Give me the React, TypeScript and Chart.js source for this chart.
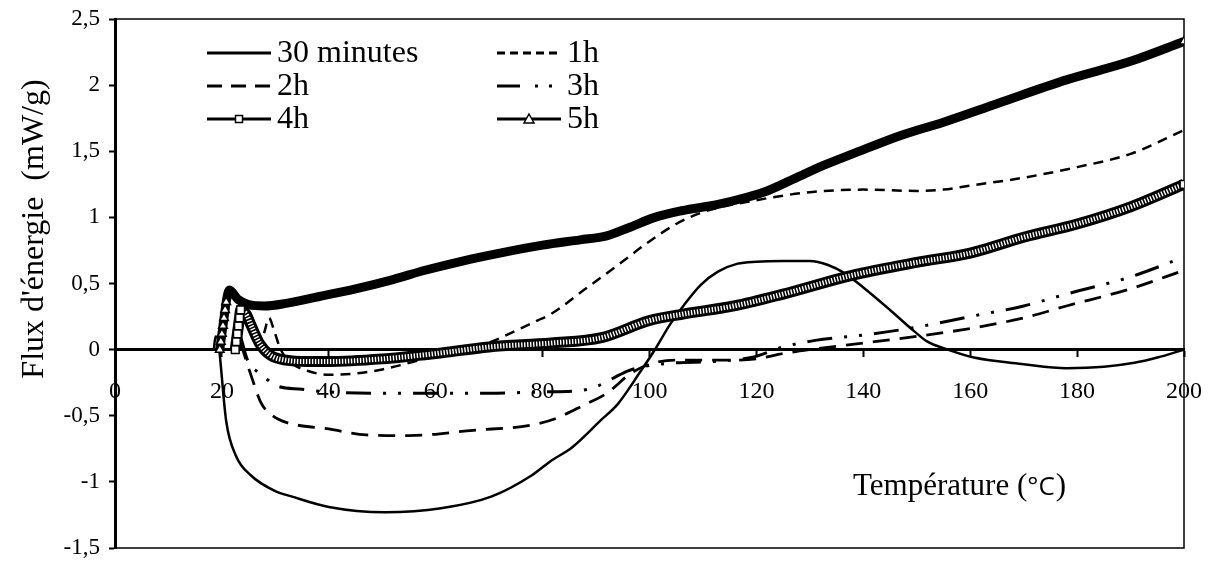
import React, { useEffect, useRef } from 'react';
import { Chart, registerables } from 'chart.js';

Chart.register(...registerables);

// ---------- data ----------
const SERIES_NAMES = ['30 minutes', '1h', '2h', '3h', '4h', '5h'];

const TEMP_30MIN = [18.5, 18.8, 19.2, 19.5, 20.8, 22.6, 25.4, 30, 33, 40, 50.5, 61, 70.5, 78, 81.6, 85.5, 91, 94.1, 98.4, 100.7, 104, 106.5, 109.6, 112.8, 116.5, 120, 125, 130, 133.4, 136.4, 140, 145, 149.5, 152, 155.8, 160.7, 170, 178, 185, 190.7, 195, 200];
const FLUX_30MIN = [0, 0.1, 0.09, 0.0, -0.54, -0.8, -0.95, -1.07, -1.11, -1.19, -1.23, -1.2, -1.11, -0.95, -0.84, -0.74, -0.53, -0.41, -0.16, -0.02, 0.2, 0.34, 0.49, 0.59, 0.65, 0.665, 0.67, 0.67, 0.64, 0.58, 0.47, 0.3, 0.14, 0.06, 0.0, -0.06, -0.11, -0.14, -0.13, -0.1, -0.06, 0.0];

const TEMP_1H = [27, 28, 28.8, 29.8, 31, 33, 36, 40, 45, 50, 57, 60, 66, 71, 79, 81.6, 87.7, 94.1, 99.7, 105, 110, 120, 130, 140, 150, 155, 160, 170, 180, 190, 200];
const FLUX_1H = [0, 0.14, 0.24, 0.14, 0.0, -0.1, -0.16, -0.19, -0.18, -0.15, -0.08, -0.05, 0.0, 0.07, 0.22, 0.27, 0.45, 0.64, 0.81, 0.95, 1.04, 1.13, 1.19, 1.21, 1.2, 1.21, 1.24, 1.3, 1.38, 1.48, 1.66];

const TEMP_2H = [23.5, 25.5, 27.3, 29.5, 32, 40, 47, 55, 67, 78, 82.5, 87.7, 92, 96.5, 100, 105, 115, 120, 125, 130, 140, 150, 160, 170, 178, 190, 200];
const FLUX_2H = [0.05, -0.2, -0.4, -0.5, -0.55, -0.6, -0.645, -0.65, -0.61, -0.57, -0.52, -0.42, -0.33, -0.18, -0.11, -0.08, -0.08, -0.07, -0.03, 0.0, 0.05, 0.1, 0.16, 0.24, 0.33, 0.46, 0.6];

const TEMP_3H = [23.5, 24.8, 26.7, 28.6, 30, 35, 40, 50, 60, 70, 80, 87, 90, 93, 96, 100, 105, 112, 119, 125, 131, 140, 150, 160, 170, 178, 190, 200];
const FLUX_3H = [0.1, -0.08, -0.17, -0.23, -0.27, -0.3, -0.32, -0.33, -0.33, -0.33, -0.32, -0.31, -0.28, -0.22, -0.16, -0.12, -0.1, -0.09, -0.06, 0.02, 0.07, 0.11, 0.17, 0.25, 0.33, 0.42, 0.55, 0.7];

const TEMP_4H = [22.5, 22.7, 22.9, 23.1, 23.3, 23.5, 24.5, 25.5, 27, 29, 32, 36, 40, 50, 60, 70, 81.6, 91, 100, 106.5, 115.8, 125, 137.7, 150, 160, 170, 180, 190, 200];
const FLUX_4H = [0, 0.06, 0.12, 0.18, 0.24, 0.3, 0.27, 0.18, 0.05, -0.04, -0.08, -0.09, -0.09, -0.07, -0.03, 0.02, 0.05, 0.09, 0.22, 0.27, 0.33, 0.42, 0.56, 0.66, 0.73, 0.85, 0.95, 1.08, 1.25];

const TEMP_5H = [19.6, 19.8, 20.0, 20.2, 20.4, 20.6, 20.8, 21.4, 23, 25, 28, 32, 38, 45, 52, 58, 65, 72, 80, 87, 92, 96, 101, 106, 113, 118, 122, 128, 133, 138, 147, 155, 165, 178, 190, 200];
const FLUX_5H = [0, 0.06, 0.12, 0.18, 0.24, 0.3, 0.36, 0.45, 0.38, 0.34, 0.33, 0.35, 0.4, 0.46, 0.53, 0.6, 0.67, 0.73, 0.79, 0.83, 0.86, 0.92, 1.0, 1.05, 1.1, 1.15, 1.2, 1.31, 1.4, 1.48, 1.62, 1.72, 1.86, 2.04, 2.18, 2.33];

const X_TICK_VALUES = [0, 20, 40, 60, 80, 100, 120, 140, 160, 180, 200];
const Y_TICK_VALUES = [-1.5, -1, -0.5, 0, 0.5, 1, 1.5, 2, 2.5];

const X_TITLE_MAIN = 'Température (';
const X_TITLE_UNIT = '°C';
const X_TITLE_END = ')';
const Y_TITLE = "Flux d'énergie  (mW/g)";

// ---------- styles ----------
const SERIF = '"Liberation Serif", "Times New Roman", serif';
const SANS = '"Open Sans", "DejaVu Sans", sans-serif';
const DASH_1H = [10, 7];
const DASH_2H = [17, 10];
const DASH_3H = [25, 12, 3, 12, 3, 12];

const pts = (xs: number[], ys: number[]) => xs.map((x, i) => ({ x, y: ys[i] }));

const riseMarker = (count: number, total: number, r: number) => (ctx: any) =>
  ctx.dataIndex < count || ctx.dataIndex === total - 1 ? r : 0;

function drawLegend(ctx: CanvasRenderingContext2D) {
  const rows = [53, 86, 119];
  const cols = [207, 497];
  const len = 64;
  const items = [
    { dash: [], marker: '' },
    { dash: [8, 5], marker: '' },
    { dash: [15, 9], marker: '' },
    { dash: [23, 15, 3, 11, 3, 12], marker: '' },
    { dash: [], marker: 'rect' },
    { dash: [], marker: 'triangle' },
  ];
  items.forEach((it, i) => {
    const x = cols[i % 2];
    const y = rows[Math.floor(i / 2)];
    ctx.save();
    ctx.strokeStyle = '#000';
    ctx.lineWidth = 3;
    ctx.setLineDash(it.dash);
    ctx.beginPath();
    ctx.moveTo(x, y);
    ctx.lineTo(x + len, y);
    ctx.stroke();
    ctx.setLineDash([]);
    const cx = x + len / 2;
    ctx.lineWidth = 1.5;
    ctx.fillStyle = '#fff';
    if (it.marker === 'rect') {
      ctx.fillRect(cx - 3.5, y - 3.5, 7, 7);
      ctx.strokeRect(cx - 3.5, y - 3.5, 7, 7);
    } else if (it.marker === 'triangle') {
      ctx.beginPath();
      ctx.moveTo(cx, y - 5);
      ctx.lineTo(cx + 5, y + 4);
      ctx.lineTo(cx - 5, y + 4);
      ctx.closePath();
      ctx.fill();
      ctx.stroke();
    }
    ctx.fillStyle = '#000';
    ctx.font = `32px ${SERIF}`;
    ctx.textBaseline = 'middle';
    ctx.textAlign = 'left';
    ctx.fillText(SERIES_NAMES[i], x + len + 6, y + 1);
    ctx.restore();
  });
}

const decorPlugin = {
  id: 'decor',
  beforeDatasetsDraw(chart: any) {
    const { ctx, chartArea } = chart;
    ctx.save();
    ctx.strokeStyle = '#000';
    ctx.lineWidth = 1.5;
    ctx.strokeRect(chartArea.left, chartArea.top, chartArea.right - chartArea.left, chartArea.bottom - chartArea.top);
    ctx.restore();
  },
  afterDraw(chart: any) {
    const { ctx } = chart;
    drawLegend(ctx);
    // y title
    ctx.save();
    ctx.fillStyle = '#000';
    ctx.font = `32px ${SERIF}`;
    ctx.textAlign = 'center';
    ctx.textBaseline = 'middle';
    ctx.translate(35, 229);
    ctx.rotate(-Math.PI / 2);
    ctx.fillText(Y_TITLE, 0, 0);
    ctx.restore();
    // x title
    ctx.save();
    ctx.fillStyle = '#000';
    ctx.textBaseline = 'middle';
    ctx.textAlign = 'left';
    let x = 853;
    const y = 487;
    ctx.font = `31px ${SERIF}`;
    ctx.fillText(X_TITLE_MAIN, x, y);
    x += ctx.measureText(X_TITLE_MAIN).width;
    ctx.font = `26px ${SANS}`;
    ctx.fillText(X_TITLE_UNIT, x, y + 1);
    x += ctx.measureText(X_TITLE_UNIT).width + 1;
    ctx.font = `31px ${SERIF}`;
    ctx.fillText(X_TITLE_END, x, y);
    ctx.restore();
  },
};

export default function App() {
  const ref = useRef<HTMLCanvasElement>(null);
  useEffect(() => {
    if (!ref.current) return;
    const line = { pointRadius: 0, borderColor: '#000', cubicInterpolationMode: 'monotone' as const, fill: false };
    const chart = new Chart(ref.current, {
      type: 'line',
      data: {
        datasets: [
          { ...line, label: '4h markers', data: pts(TEMP_4H, FLUX_4H), showLine: false, pointStyle: 'rect', pointRadius: riseMarker(6, TEMP_4H.length, 5.5), pointBackgroundColor: '#fff', pointBorderColor: '#000', pointBorderWidth: 1.5, order: 0 },
          { ...line, label: '5h markers', data: pts(TEMP_5H, FLUX_5H), showLine: false, pointStyle: 'triangle', pointRadius: riseMarker(7, TEMP_5H.length, 5), pointBackgroundColor: '#fff', pointBorderColor: '#000', pointBorderWidth: 1.5, order: 0 },
          { ...line, label: SERIES_NAMES[5], data: pts(TEMP_5H, FLUX_5H), borderWidth: 9, order: 1 },
          { ...line, label: '4h stripes', data: pts(TEMP_4H, FLUX_4H), borderWidth: 5, borderColor: '#fff', borderDash: [1.4, 1.6], order: 2 },
          { ...line, label: SERIES_NAMES[4], data: pts(TEMP_4H, FLUX_4H), borderWidth: 11, order: 3 },
          { ...line, label: SERIES_NAMES[0], data: pts(TEMP_30MIN, FLUX_30MIN), borderWidth: 2.5, order: 4 },
          { ...line, label: SERIES_NAMES[1], data: pts(TEMP_1H, FLUX_1H), borderWidth: 2.5, borderDash: DASH_1H, order: 4 },
          { ...line, label: SERIES_NAMES[2], data: pts(TEMP_2H, FLUX_2H), borderWidth: 2.8, borderDash: DASH_2H, order: 4 },
          { ...line, label: SERIES_NAMES[3], data: pts(TEMP_3H, FLUX_3H), borderWidth: 3, borderDash: DASH_3H, order: 4 },
        ],
      },
      options: {
        responsive: false,
        animation: false,
        devicePixelRatio: 1,
        layout: { padding: { top: 19, right: 31, bottom: 14, left: 0 } },
        plugins: { legend: { display: false }, tooltip: { enabled: false } },
        scales: {
          x: {
            type: 'linear',
            min: 0,
            max: 200,
            position: { y: 0 } as any,
            afterBuildTicks: (s: any) => { s.ticks = X_TICK_VALUES.map((v) => ({ value: v })); },
            afterFit: (s: any) => { s.paddingLeft = 0; s.paddingRight = 0; s.paddingTop = 0; s.paddingBottom = 0; },
            ticks: { color: '#000', font: { family: SERIF, size: 24 }, padding: 22, maxRotation: 0, autoSkip: false },
            grid: { drawOnChartArea: false, color: '#000', tickLength: 6, tickWidth: 2 },
            border: { display: true, color: '#000', width: 3 },
          },
          y: {
            type: 'linear',
            min: -1.5,
            max: 2.5,
            afterBuildTicks: (s: any) => { s.ticks = Y_TICK_VALUES.map((v) => ({ value: v })); },
            afterFit: (s: any) => { s.width = 115; s.paddingTop = 0; s.paddingBottom = 0; s.paddingLeft = 0; s.paddingRight = 0; },
            ticks: { color: '#000', font: { family: SERIF, size: 23 }, padding: 9, callback: (v: any) => String(v).replace('.', ',') },
            grid: { drawOnChartArea: false, color: '#000', tickLength: 6, tickWidth: 2 },
            border: { display: true, color: '#000', width: 3 },
          },
        },
      },
      plugins: [decorPlugin],
    });
    return () => chart.destroy();
  }, []);
  return (
    <div style={{ position: 'absolute', left: 0, top: 0, width: 1215, height: 562, background: '#fff' }}>
      <canvas ref={ref} width={1215} height={562} style={{ display: 'block' }} />
    </div>
  );
}
